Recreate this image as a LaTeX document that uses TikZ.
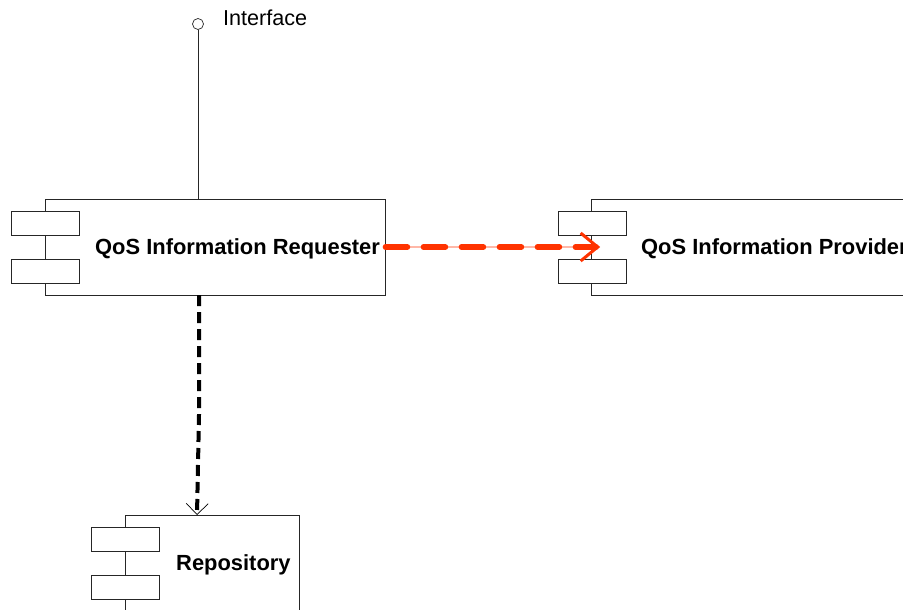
\documentclass[tikz,border=0pt]{standalone}
\usepackage{fontspec}
\setmainfont{Liberation Sans}
\usetikzlibrary{arrows.meta}
\definecolor{flowred}{HTML}{FF3300}
\definecolor{flowpink}{HTML}{FFB8A8}
\begin{document}
\begin{tikzpicture}[x=1pt,y=-1pt,
  compbody/.style={draw=black!85,line width=0.9pt,fill=white,rectangle,inner sep=0pt,
    minimum height=96pt},
  comptab/.style={draw=black!85,line width=0.9pt,fill=white,rectangle,inner sep=0pt,
    minimum width=68pt,minimum height=24pt},
  complabel/.style={font=\fontsize{21.9}{25}\selectfont\bfseries,inner sep=0pt,anchor=west},
  plainlabel/.style={font=\fontsize{21.6}{25}\selectfont,inner sep=0pt,anchor=west},
  lollipop/.style={draw=black!85,line width=0.7pt,fill=white,circle,inner sep=0pt,minimum size=11pt},
  reqflow/.style={draw=flowred,line width=5.5pt,line cap=round,dash pattern=on 22pt off 16pt,
    -{Straight Barb[length=17pt,width=28pt,line width=3pt]}},
  storeflow/.style={draw=black,line width=4pt,dash pattern=on 11pt off 6pt,
    -{Straight Barb[length=11pt,width=22pt,line width=0.7pt]}}
]
\useasboundingbox (0,0) rectangle (903,610);
\clip (0,0) rectangle (903,610);
\fill[white] (0,0) rectangle (903,610);

% QoS Information Requester
\node[compbody,minimum width=340pt] (req) at (215,247) {};
\node[comptab] (reqtabA) at (45,223) {};
\node[comptab] (reqtabB) at (45,271) {};
\node[complabel] (reqlabel) at (95,248.5) {QoS Information Requester};

% QoS Information Provider (runs off the right edge)
\node[compbody,minimum width=340pt] (prov) at (761,247) {};
\node[comptab] (provtabA) at (592,223) {};
\node[comptab] (provtabB) at (592,271) {};
\node[complabel] (provlabel) at (641,248.5) {QoS Information Provider};

% Repository (runs off the bottom edge)
\node[compbody,minimum width=174pt] (repo) at (212,563) {};
\node[comptab] (repotabA) at (125,539) {};
\node[comptab] (repotabB) at (125,587) {};
\node[complabel] (repolabel) at (176,564.5) {Repository};

% provided interface
\node[lollipop] (iface) at (198,24) {};
\node[plainlabel] (ifacelabel) at (223,18) {Interface};
\draw[black!85,line width=0.7pt] (iface.south) -- (req.north -| iface.south);

% usage dependencies
\coordinate (reqright) at (req.east);
\coordinate (provtip) at (600,247);
\draw[flowpink,line width=1.2pt] (reqright) -- (provtip);
\draw[reqflow] (reqright) -- (provtip);

\coordinate (reqbottom) at (199,295);
\coordinate (repotop) at (197,515);
\draw[storeflow] (reqbottom) -- (199,415) -- (repotop);
\end{tikzpicture}
\end{document}
